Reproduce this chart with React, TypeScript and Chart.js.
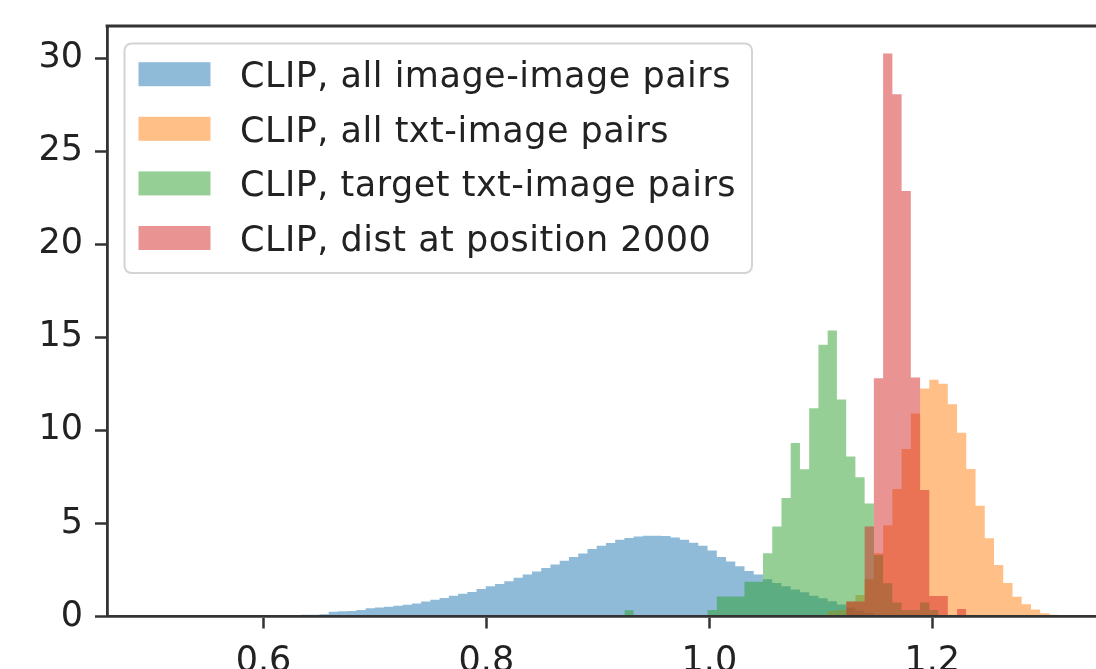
import React, { useEffect, useRef } from 'react';
import { Chart, registerables } from 'chart.js';

Chart.register(...registerables);

// Shared histogram binning (left edge of bin 0 and bin width, in data units)
const binStart = 0.501;
const binWidth = 0.00829;

const seriesLabels = [
  'CLIP, all image-image pairs',
  'CLIP, all txt-image pairs',
  'CLIP, target txt-image pairs',
  'CLIP, dist at position 2000',
];
const seriesColors = [
  'rgba(31,119,180,0.5)',
  'rgba(255,127,14,0.5)',
  'rgba(44,160,44,0.5)',
  'rgba(214,39,40,0.5)',
];

// Density values per bin, starting at the given bin index
const blueFirstBin = 11;
const blueValues = [
  0.05, 0.05, 0.06, 0.07, 0.08, 0.09, 0.1, 0.12, 0.25, 0.28,
  0.3, 0.35, 0.44, 0.48, 0.53, 0.58, 0.63, 0.7, 0.8, 0.9,
  1.0, 1.12, 1.22, 1.32, 1.48, 1.62, 1.75, 1.9, 2.08, 2.25,
  2.42, 2.6, 2.8, 3.0, 3.2, 3.38, 3.62, 3.8, 3.95, 4.12,
  4.22, 4.3, 4.34, 4.34, 4.32, 4.24, 4.12, 3.96, 3.8, 3.55,
  3.2, 2.95, 2.7, 2.45, 2.25, 2.0, 1.8, 1.62, 1.45, 1.3,
  1.12, 0.98, 0.82, 0.65, 0.48, 0.32, 0.2, 0.1, 0.05, 0.02,
];

const orangeFirstBin = 72;
const orangeValues = [
  0.1, 0.3, 0.35, 0.8, 1.16, 2.0, 3.4, 4.9, 6.85, 9.0,
  10.9, 12.25, 12.72, 12.5, 11.4, 9.87, 7.93, 5.95, 4.2, 2.77,
  1.8, 1.06, 0.66, 0.37, 0.17, 0.1,
];

const greenFirstBin = 51;
const greenValues = [
  0.33, 0, 0, 0, 0, 0, 0, 0, 0,
  0.35, 1.07, 1.07, 1.07, 1.87, 1.87, 3.4, 4.83, 6.37, 9.32,
  7.91, 11.19, 14.6, 15.36, 11.66, 8.59, 7.48, 6.07, 3.3, 1.78,
  0.75, 0.35, 0.35, 0.75, 0.35,
];

const redFirstBin = 75;
const redValues = [0.8, 0.8, 4.83, 12.8, 30.24, 28.06, 22.86, 12.84, 6.8, 1.1, 1.1, 0, 0.4];

const xTickValues = [0.6, 0.8, 1.0, 1.2];
const xTickLabels = ['0.6', '0.8', '1.0', '1.2'];
const yTickValues = [0, 5, 10, 15, 20, 25, 30];
const yTickLabels = ['0', '5', '10', '15', '20', '25', '30'];

const X_MIN = 0.4596;
const X_MAX = 1.3469;
const Y_MIN = 0;
const Y_MAX = 31.72;

const FONT = '"DejaVu Sans", "Liberation Sans", sans-serif';
const FONT_SIZE = 35;
const AXIS_COLOR = '#333333';
const TEXT_COLOR = '#222222';

function histPoints(firstBin: number, values: number[]) {
  const pts = values.map((v, i) => ({ x: binStart + (firstBin + i) * binWidth, y: v }));
  pts.push({ x: binStart + (firstBin + values.length) * binWidth, y: 0 });
  return pts;
}

const topSpinePlugin = {
  id: 'topSpine',
  afterDraw(chart: any) {
    const { ctx, chartArea } = chart;
    ctx.save();
    ctx.strokeStyle = AXIS_COLOR;
    ctx.lineWidth = 2.8;
    ctx.beginPath();
    ctx.moveTo(chartArea.left - 1.4, chartArea.top);
    ctx.lineTo(chartArea.right + 2, chartArea.top);
    ctx.stroke();
    ctx.restore();
  },
};

const boxLegendPlugin = {
  id: 'boxLegend',
  afterDraw(chart: any) {
    const { ctx } = chart;
    const datasets = chart.data.datasets;
    const bx = 124.5, by = 43.5, bw = 627.5, bh = 229.5, r = 7;
    ctx.save();
    ctx.beginPath();
    ctx.moveTo(bx + r, by);
    ctx.lineTo(bx + bw - r, by);
    ctx.arcTo(bx + bw, by, bx + bw, by + r, r);
    ctx.lineTo(bx + bw, by + bh - r);
    ctx.arcTo(bx + bw, by + bh, bx + bw - r, by + bh, r);
    ctx.lineTo(bx + r, by + bh);
    ctx.arcTo(bx, by + bh, bx, by + bh - r, r);
    ctx.lineTo(bx, by + r);
    ctx.arcTo(bx, by, bx + r, by, r);
    ctx.closePath();
    ctx.fillStyle = 'rgba(255,255,255,0.8)';
    ctx.fill();
    ctx.strokeStyle = '#d4d4d4';
    ctx.lineWidth = 2;
    ctx.stroke();

    const rowStart = 74.2;
    const rowStep = 54.6;
    ctx.font = `${FONT_SIZE}px ${FONT}`;
    ctx.textAlign = 'left';
    ctx.textBaseline = 'alphabetic';
    try { (ctx as any).letterSpacing = '0.5px'; } catch (e) { /* ignore */ }
    datasets.forEach((ds: any, i: number) => {
      const cy = rowStart + i * rowStep;
      ctx.fillStyle = ds.backgroundColor;
      ctx.fillRect(138.5, cy - 12, 72, 24);
      ctx.fillStyle = TEXT_COLOR;
      ctx.fillText(ds.label, 240, cy + 0.3645 * FONT_SIZE);
    });
    ctx.restore();
  },
};

export default function App() {
  const canvasRef = useRef<HTMLCanvasElement | null>(null);

  useEffect(() => {
    if (!canvasRef.current) return;
    Chart.defaults.font.family = FONT;

    const firstBins = [blueFirstBin, orangeFirstBin, greenFirstBin, redFirstBin];
    const valueSets = [blueValues, orangeValues, greenValues, redValues];

    const datasets = seriesLabels.map((label, i) => ({
      label,
      data: histPoints(firstBins[i], valueSets[i]),
      backgroundColor: seriesColors[i],
      borderColor: 'rgba(0,0,0,0)',
      borderWidth: 0,
      fill: 'origin',
      stepped: 'before' as const,
      pointRadius: 0,
      pointHoverRadius: 0,
      order: seriesLabels.length - i,
    }));

    const tickFont = { size: FONT_SIZE, family: FONT };

    const chart = new Chart(canvasRef.current, {
      type: 'line',
      data: { datasets },
      options: {
        animation: false,
        responsive: false,
        maintainAspectRatio: false,
        events: [],
        layout: { padding: { top: 26, left: 0, right: 0, bottom: 0 } },
        plugins: {
          legend: { display: false },
          tooltip: { enabled: false },
        },
        elements: { line: { tension: 0 } },
        scales: {
          x: {
            type: 'linear',
            min: X_MIN,
            max: X_MAX,
            afterBuildTicks: (s: any) => {
              s.ticks = xTickValues.map((v) => ({ value: v }));
            },
            afterFit: (s: any) => {
              s.height = 52.5;
              s.paddingLeft = 0;
              s.paddingRight = 0;
              s.paddingTop = 0;
              s.paddingBottom = 0;
            },
            ticks: {
              callback: (_v: any, i: number) => xTickLabels[i],
              autoSkip: false,
              maxRotation: 0,
              minRotation: 0,
              padding: 12,
              color: TEXT_COLOR,
              font: tickFont,
            },
            grid: {
              display: true,
              drawOnChartArea: false,
              drawTicks: true,
              tickLength: 12,
              tickWidth: 2.5,
              tickColor: AXIS_COLOR,
            },
            border: { display: true, color: AXIS_COLOR, width: 2.8, z: 1 },
          },
          y: {
            type: 'linear',
            min: Y_MIN,
            max: Y_MAX,
            afterBuildTicks: (s: any) => {
              s.ticks = yTickValues.map((v) => ({ value: v }));
            },
            afterFit: (s: any) => {
              s.width = 107;
              s.paddingLeft = 0;
              s.paddingRight = 0;
              s.paddingTop = 0;
              s.paddingBottom = 0;
            },
            ticks: {
              callback: (_v: any, i: number) => yTickLabels[i],
              autoSkip: false,
              padding: 12,
              color: TEXT_COLOR,
              font: tickFont,
            },
            grid: {
              display: true,
              drawOnChartArea: false,
              drawTicks: true,
              tickLength: 12,
              tickWidth: 2.5,
              tickColor: AXIS_COLOR,
            },
            border: { display: true, color: AXIS_COLOR, width: 2.8, z: 1 },
          },
        },
      } as any,
      plugins: [topSpinePlugin, boxLegendPlugin],
    });

    return () => {
      chart.destroy();
    };
  }, []);

  return (
    <div style={{ position: 'absolute', left: 0, top: 0, width: 1096, height: 669, overflow: 'hidden', background: '#fff' }}>
      <canvas ref={canvasRef} width={1096} height={669} style={{ display: 'block' }} />
    </div>
  );
}
